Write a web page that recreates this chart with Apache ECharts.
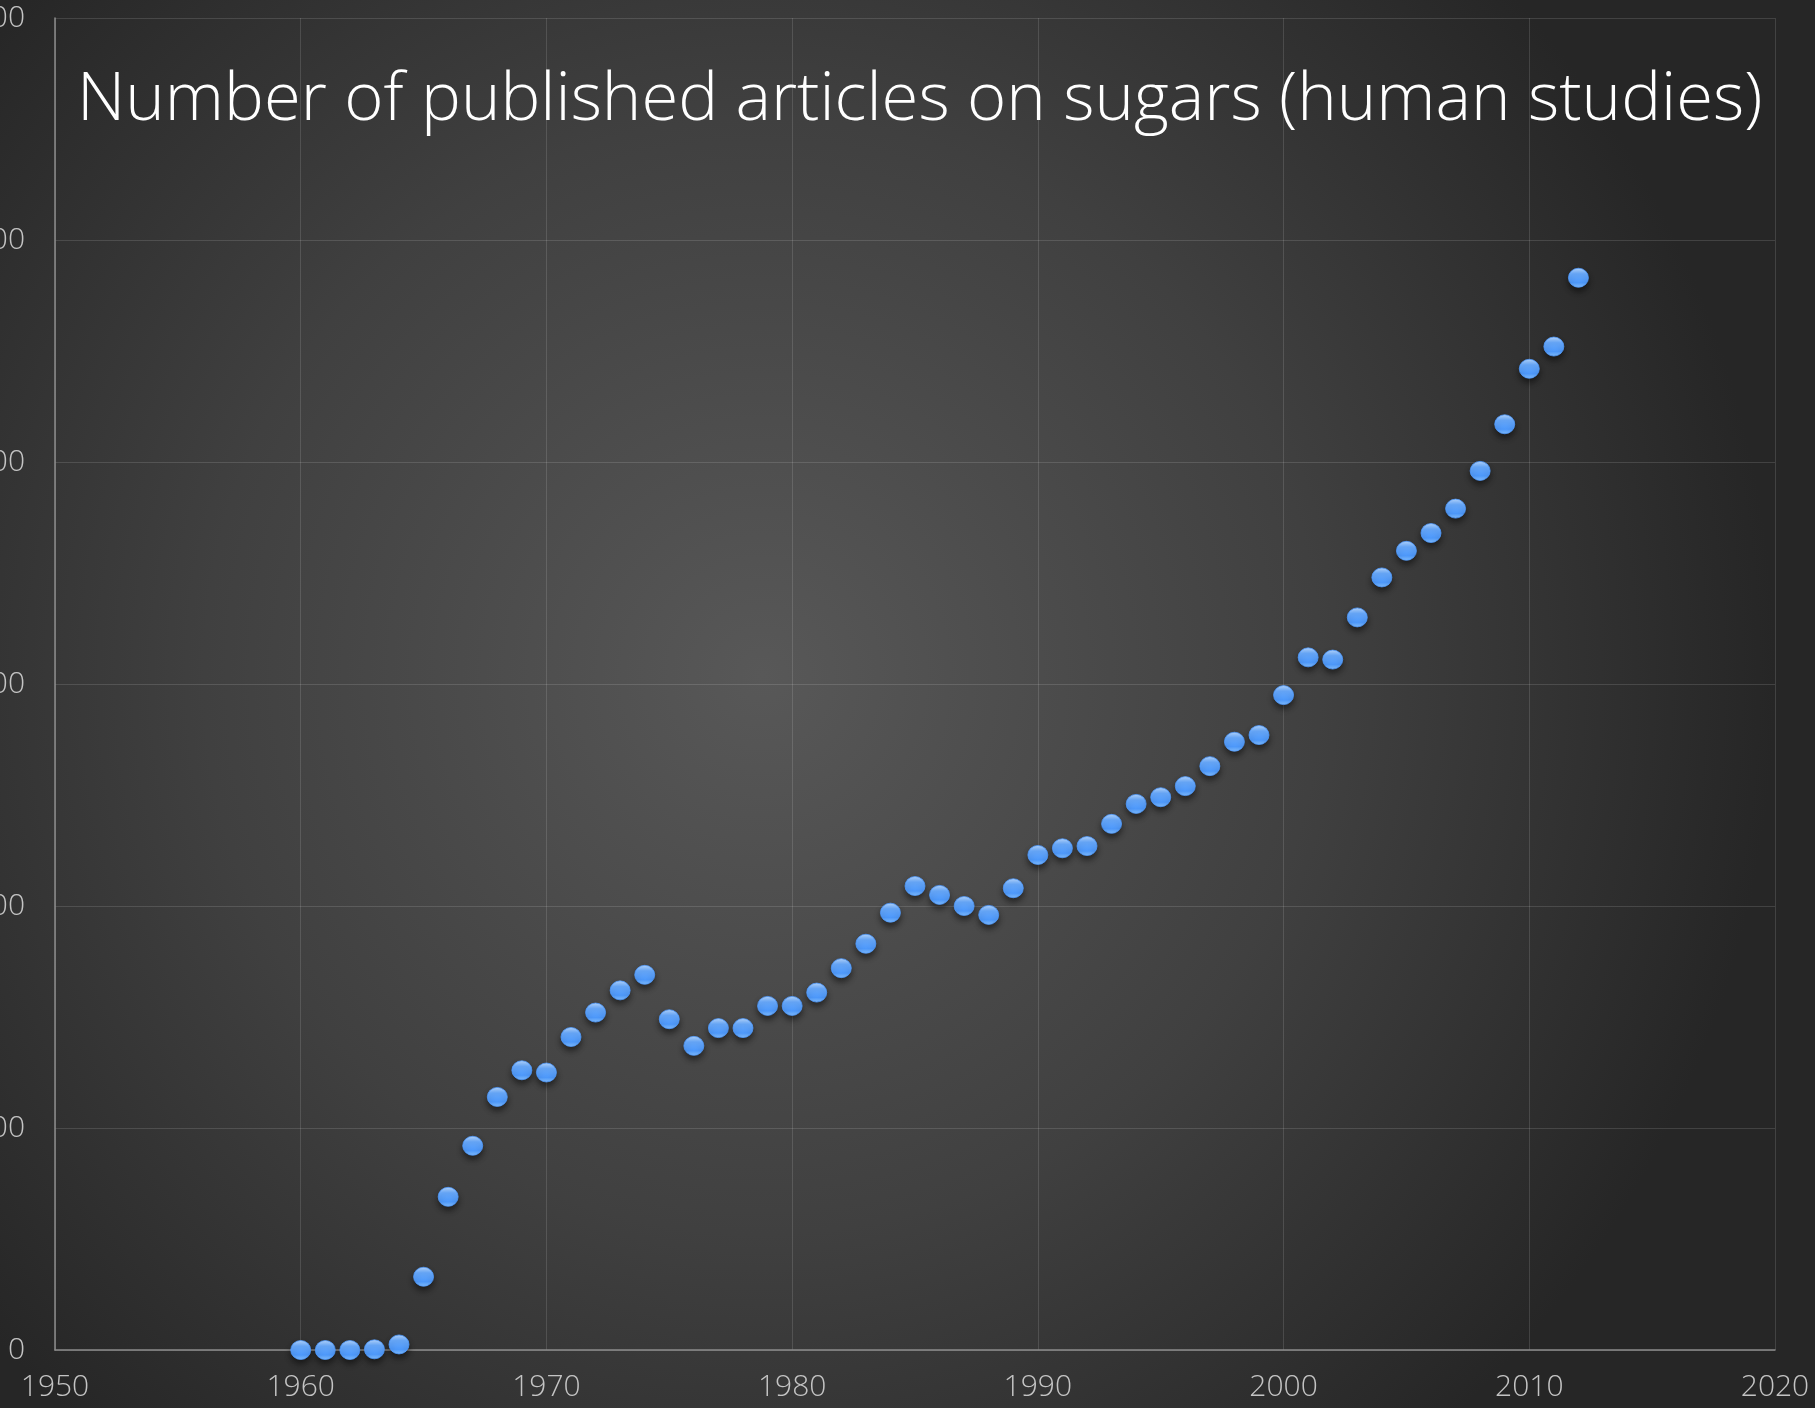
<!DOCTYPE html>
<html>
<head>
<meta charset="utf-8">
<script src="https://cdn.jsdelivr.net/npm/echarts@6/dist/echarts.min.js"></script>
<style>
  html, body { margin: 0; padding: 0; background: #2b2b2b; }
  #chart { width: 1815px; height: 1408px; }
</style>
</head>
<body>
<div id="chart"></div>
<script>
// Publication years on the x axis
const years = [
  1960, 1961, 1962, 1963, 1964, 1965, 1966, 1967, 1968, 1969,
  1970, 1971, 1972, 1973, 1974, 1975, 1976, 1977, 1978, 1979,
  1980, 1981, 1982, 1983, 1984, 1985, 1986, 1987, 1988, 1989,
  1990, 1991, 1992, 1993, 1994, 1995, 1996, 1997, 1998, 1999,
  2000, 2001, 2002, 2003, 2004, 2005, 2006, 2007, 2008, 2009,
  2010, 2011, 2012
];

// Articles published per year
const articles = [
  0, 0, 0, 0.3, 2.5, 33, 69, 92, 114, 126,
  125, 141, 152, 162, 169, 149, 137, 145, 145, 155,
  155, 161, 172, 183, 197, 209, 205, 200, 196, 208,
  223, 226, 227, 237, 246, 249, 254, 263, 274, 277,
  295, 312, 311, 330, 348, 360, 368, 379, 396, 417,
  442, 452, 483
];

// Axis ranges and tick steps
const xRange = { min: 1950, max: 2020, step: 10 };
const yRange = { min: 0, max: 600, step: 100 };

const titleText = 'Number of published articles on sugars (human studies)';

const FONT = '"Open Sans", Lato, sans-serif';

const chart = echarts.init(document.getElementById('chart'), null, { renderer: 'canvas' });

const points = years.map((y, i) => [y, articles[i]]);

chart.setOption({
  animation: false,
  backgroundColor: {
    type: 'radial', x: 0.42, y: 0.48, r: 0.72,
    colorStops: [
      { offset: 0, color: '#585858' },
      { offset: 0.55, color: '#404040' },
      { offset: 1, color: '#262626' }
    ]
  },
  title: {
    text: titleText,
    left: 72,
    top: 62,
    textStyle: {
      color: '#ffffff',
      fontFamily: FONT,
      fontWeight: 300,
      fontSize: 67
    }
  },
  grid: {
    left: 55, right: 40, top: 18, bottom: 58,
    containLabel: false,
    outerBoundsMode: 'none'
  },
  xAxis: {
    type: 'value',
    min: xRange.min, max: xRange.max, interval: xRange.step,
    axisLine: { show: true, lineStyle: { color: '#8c8c8c', width: 1.5 } },
    axisTick: { show: false },
    axisLabel: {
      color: '#c4c4c4', fontFamily: FONT, fontWeight: 300, fontSize: 30, margin: 22,
      formatter: v => String(v)
    },
    splitLine: { show: true, lineStyle: { color: 'rgba(255,255,255,0.13)', width: 1 } }
  },
  yAxis: {
    type: 'value',
    min: yRange.min, max: yRange.max, interval: yRange.step,
    axisLine: { show: true, lineStyle: { color: '#8c8c8c', width: 1.5 } },
    axisTick: { show: false },
    axisLabel: {
      color: '#c4c4c4', fontFamily: FONT, fontWeight: 300, fontSize: 30, margin: 30
    },
    splitLine: { show: true, lineStyle: { color: 'rgba(255,255,255,0.13)', width: 1 } }
  },
  series: [{
    type: 'scatter',
    data: points,
    symbol: 'circle',
    symbolSize: [20, 19],
    clip: false,
    itemStyle: {
      opacity: 1,
      color: {
        type: 'linear', x: 0, y: 0, x2: 0, y2: 1,
        colorStops: [
          { offset: 0, color: '#b8d8ff' },
          { offset: 0.3, color: '#6aacff' },
          { offset: 0.75, color: '#4d98fa' },
          { offset: 1, color: '#84c0ff' }
        ]
      },
      borderColor: '#4f9aff',
      borderWidth: 0.8,
      shadowColor: 'rgba(0,0,0,0.5)',
      shadowBlur: 6,
      shadowOffsetY: 4
    }
  }]
});
</script>
</body>
</html>
